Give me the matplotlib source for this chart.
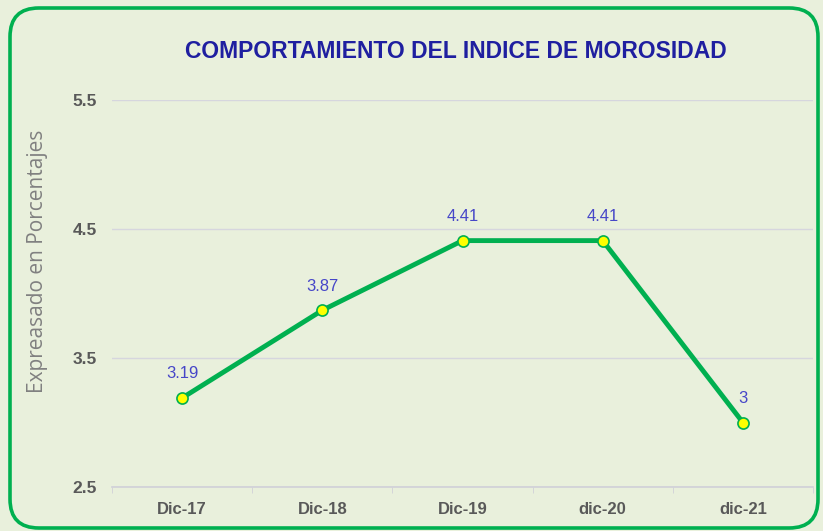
import matplotlib.pyplot as plt
from matplotlib.patches import FancyBboxPatch

periodos = ['Dic-17', 'Dic-18', 'Dic-19', 'dic-20', 'dic-21']
morosidad = [3.19, 3.87, 4.41, 4.41, 3]
etiquetas = ['3.19', '3.87', '4.41', '4.41', '3']
yticks = [2.5, 3.5, 4.5, 5.5]

fondo = '#E9F0DC'
verde = '#00B050'

fig = plt.figure(figsize=(8.23, 5.31), dpi=100)
fig.patch.set_facecolor(fondo)

# marco redondeado
marco = FancyBboxPatch((10 / 823, 3 / 531), 808 / 823, 520 / 531,
                       boxstyle='round,pad=0,rounding_size=0.035',
                       transform=fig.transFigure, facecolor='none',
                       edgecolor=verde, linewidth=2.6, mutation_aspect=823 / 531)
fig.patches.append(marco)

ax = fig.add_axes([112 / 823, 1 - 487 / 531, 701 / 823, 387 / 531])
ax.set_facecolor(fondo)

x = range(len(periodos))
ax.plot(x, morosidad, color=verde, linewidth=3.5, marker='o', markersize=8,
        markerfacecolor='#FFFF00', markeredgecolor=verde, markeredgewidth=1.2,
        zorder=3)
for i, (v, t) in enumerate(zip(morosidad, etiquetas)):
    ax.annotate(t, (i, v), xytext=(0, 12), textcoords='offset points',
                ha='center', va='bottom', color='#4646C8', fontsize=12,
                family='Liberation Sans')

ax.set_xlim(-0.5, len(periodos) - 0.5)
ax.set_ylim(2.5, 5.5)
ax.set_yticks(yticks)
ax.set_yticklabels([str(v) for v in yticks], fontsize=12.5, fontweight='bold',
                   color='#595959', family='Liberation Sans')
ax.set_xticks(list(x))
ax.set_xticklabels(periodos, fontsize=12, fontweight='bold',
                   color='#595959', family='Liberation Sans')
ax.set_xticks([i - 0.5 for i in range(len(periodos) + 1)], minor=True)
ax.tick_params(axis='x', which='major', length=0, pad=11)
ax.tick_params(axis='x', which='minor', length=4, color='#D0D0D8')
ax.tick_params(axis='y', length=0, pad=11)

ax.grid(axis='y', color='#D6D6DE', linewidth=1)
ax.set_axisbelow(True)
for s in ['top', 'right', 'left']:
    ax.spines[s].set_visible(False)
ax.spines['bottom'].set_color('#D0D0D8')
ax.spines['bottom'].set_linewidth(1.2)

fig.text(38 / 823, 1 - 261 / 531, 'Expreasado en Porcentajes', rotation=90,
         ha='center', va='center', fontsize=15, color='#808080',
         family='Open Sans')

fig.text(456 / 823, 1 - 52 / 531, 'COMPORTAMIENTO DEL INDICE DE MOROSIDAD',
         ha='center', va='center', fontsize=16.5, fontweight='bold',
         color='#1F1FA0', family='Liberation Sans')

fig.savefig('out.png', dpi=100, facecolor=fondo)
